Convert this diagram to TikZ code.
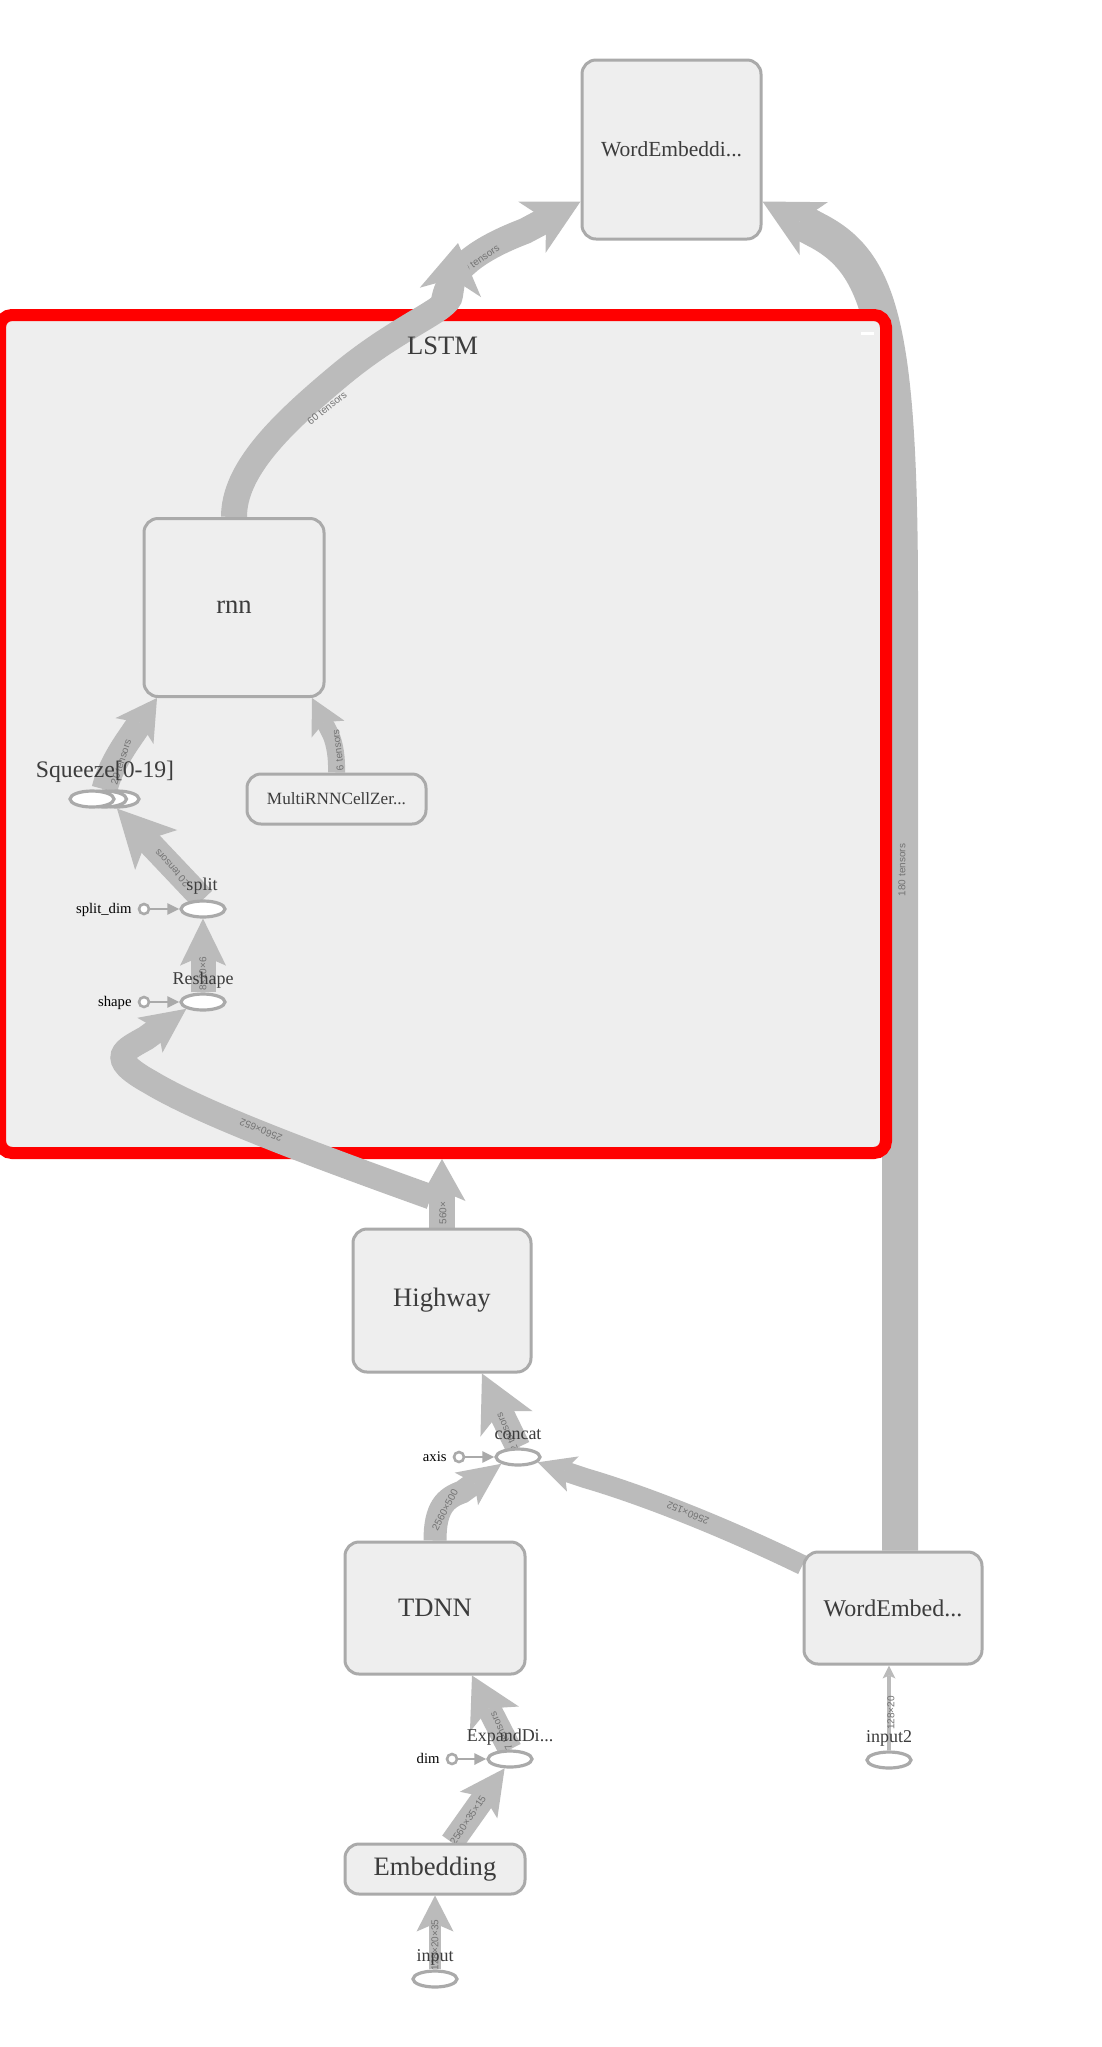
\documentclass[tikz,border=0pt]{standalone}
\usepackage{fontspec}
\setmainfont{Liberation Serif}
\setsansfont{Liberation Sans}
\usetikzlibrary{arrows.meta,shapes.geometric,calc}
\definecolor{edgec}{RGB}{187,187,187}
\definecolor{nodef}{RGB}{238,238,238}
\definecolor{nodeb}{RGB}{170,170,170}
\definecolor{txtc}{RGB}{60,60,60}
\definecolor{elabc}{RGB}{115,115,115}
\definecolor{lstmred}{RGB}{255,0,0}
\pgfdeclarelayer{rootedge}
\pgfdeclarelayer{clusterlayer}
\pgfdeclarelayer{inedge}
\pgfsetlayers{rootedge,clusterlayer,inedge,main}
\newcommand\fsz[1]{\fontsize{#1}{#1}\selectfont}
\tikzset{
  metabox/.style={draw=nodeb, fill=nodef, line width=1.5pt, rounded corners=7pt, text=txtc, inner sep=0pt, align=center},
  opnode/.style={ellipse, draw=nodeb, fill=white, line width=1.6pt, minimum width=22pt, minimum height=8pt, inner sep=0pt},
  oplab/.style={text=txtc, font=\fsz{9}, anchor=base, inner sep=0pt},
  cnode/.style={circle, draw=nodeb, fill=white, line width=1.3pt, minimum size=5pt, inner sep=0pt},
  clab/.style={text=black, font=\fsz{7.35}, anchor=base east, inner sep=0pt},
  carrow/.style={draw=nodeb, line width=1.3pt, -{Triangle[length=6pt,width=5.5pt]}},
  flow/.style={draw=edgec},
  edgelab/.style={text=elabc, font=\sffamily\fsz{5}, inner sep=0pt},
}
\begin{document}
\begin{tikzpicture}[x=0.5pt,y=-0.5pt]
\begin{pgfonlayer}{rootedge}
\fill[white] (0,0) rectangle (1102,2047);
\end{pgfonlayer}
\useasboundingbox (0,0) rectangle (1102,2047);

% ---------- boxes ----------
\node[metabox, minimum width=89.5pt, minimum height=89.5pt, font=\fsz{10.75}] (we1) at (671.5,149.5) {WordEmbeddi...};
\node[metabox, minimum width=90pt, minimum height=89pt, font=\fsz{13.3}] (rnn) at (234,607.5) {rnn};
\node[metabox, minimum width=89.5pt, minimum height=25pt, font=\fsz{8.6}] (multi) at (336.5,799) {MultiRNNCellZer...};
\node[metabox, minimum width=89pt, minimum height=71.5pt, font=\fsz{13.3}] (highway) at (442,1300.5) {Highway};
\node[metabox, minimum width=90pt, minimum height=66pt, font=\fsz{13.3}] (tdnn) at (435,1608) {TDNN};
\node[metabox, minimum width=89pt, minimum height=56pt, font=\fsz{12}] (we2) at (893,1608) {WordEmbed...};
\node[metabox, minimum width=90pt, minimum height=25pt, font=\fsz{13.3}] (embed) at (435,1869) {Embedding};

% ---------- cluster ----------
\begin{pgfonlayer}{clusterlayer}
\node[draw=lstmred, fill=nodef, line width=6pt, rounded corners=6pt, minimum width=443pt, minimum height=419pt, inner sep=0pt] (lstm) at (443,734) {};
\draw[white, line width=1.5pt] (861,333) -- (874,333);
\end{pgfonlayer}
\node[oplab, font=\fsz{13.3}] (lstml) at (442.5,354) {LSTM};

% ---------- op nodes ----------
\node[opnode] (sq3) at (117,799) {};
\node[opnode] (sq2) at (104.5,799) {};
\node[opnode] (sq) at (92,799) {};
\node[opnode] (split) at (203,909) {};
\node[opnode] (reshape) at (203,1002) {};
\node[opnode] (concat) at (518,1457) {};
\node[opnode] (expand) at (510,1759) {};
\node[opnode] (input2) at (889,1760) {};
\node[opnode] (input) at (435,1979) {};

\node[oplab, font=\fsz{11.85}] (sql) at (105,777) {Squeeze[0-19]};
\node[oplab] (splitl) at (202,890.5) {split};
\node[oplab] (reshapel) at (203,984) {Reshape};
\node[oplab] (concatl) at (518,1439) {concat};
\node[oplab] (expandl) at (510,1741.5) {ExpandDi...};
\node[oplab] (input2l) at (889,1742) {input2};
\node[oplab] (inputl) at (435,1961.5) {input};

% ---------- constants ----------
\node[cnode] (sdc) at (144,909) {};
\node[clab] (sdl) at (132,913.5) {split\_dim};
\node[cnode] (shc) at (144,1002) {};
\node[clab] (shl) at (132,1006.5) {shape};
\node[cnode] (axc) at (459,1457) {};
\node[clab] (axl) at (447,1461.5) {axis};
\node[cnode] (dmc) at (452,1759) {};
\node[clab] (dml) at (440,1763.5) {dim};

\coordinate (lstmout) at (458,243);

% ---------- edges inside the cluster ----------
\begin{pgfonlayer}{inedge}
\draw[carrow] (sdc) -- (split);
\draw[carrow] (shc) -- (reshape);
\draw[carrow] (axc) -- (concat);
\draw[carrow] (dmc) -- (expand);

\draw[flow, line width=13pt, -{Stealth[length=25pt,width=31pt,inset=7pt,line width=0pt]}]
  (rnn.north) .. controls (234,470) and (280,425) .. (340,375)
  .. controls (400,325) and (449,310) .. (450,295) -- (lstmout);
\node[edgelab, rotate=38] at (327,408) {60 tensors};

\draw[flow, line width=13pt, -{Stealth[length=20pt,width=23pt,inset=5pt,line width=0pt]}]
  (sq2.north) .. controls (108,775) and (115,760) .. (127,742) -- ([xshift=7.25pt]rnn.south west);
\node[edgelab, rotate=72] at (121,762) {20 tensors};

\draw[flow, line width=8.5pt, -{Stealth[length=17.5pt,width=18.5pt,inset=4pt,line width=0pt]}]
  (multi.north) .. controls (337,758) and (335,745) .. (331,735) -- ([xshift=-6.75pt]rnn.south east);
\node[edgelab, rotate=97] at (338,750) {6 tensors};

\draw[flow, line width=12.5pt, -{Stealth[length=28.5pt,width=29pt,inset=7pt,line width=0pt]}]
  (split.north) -- (sq3.south);
\node[edgelab, rotate=132] at (172,868) {20 tensors};

\draw[flow, line width=12.5pt, -{Stealth[length=23.5pt,width=23pt,inset=5pt,line width=0pt]}]
  (reshape.north) -- (split.south);
\node[edgelab, rotate=90] at (203,974) {8×20×6};

\draw[flow, line width=12.5pt, -{Stealth[length=22.5pt,width=21.5pt,inset=5pt,line width=0pt]}]
  ([xshift=-6pt,yshift=-19pt]lstm.south) .. controls (300,1150) and (200,1112) .. (150,1082)
  .. controls (105,1057) and (125,1050) .. (146,1038) -- (reshape.south west);
\node[edgelab, rotate=158] at (261,1130) {2560×652};
\end{pgfonlayer}

% ---------- edges outside the cluster ----------
\begin{pgfonlayer}{rootedge}
\draw[flow, line width=18pt, -{Stealth[length=29pt,width=30pt,inset=8pt,line width=0pt]}]
  ([xshift=3.5pt]we2.north) -- (900,600) .. controls (900,330) and (880,265) .. (820,232)
  -- ([yshift=19.5pt]we1.south east);
\node[edgelab, rotate=90] at (902,870) {180 tensors};

\draw[flow, line width=13pt, -{Stealth[length=27.5pt,width=29pt,inset=8pt,line width=0pt]}]
  (lstm.north) .. controls (445,275) and (470,252) .. (525,231) -- ([yshift=19.5pt]we1.south west);
\node[edgelab, rotate=34] at (479,260) {60 tensors};

\draw[flow, line width=13pt, -{Stealth[length=21pt,width=23.5pt,inset=5pt,line width=0pt]}]
  (highway.north) -- (highway.north |- lstm.south);
\node[edgelab, rotate=90] at (443,1213) {560×};

\draw[flow, line width=12.5pt, -{Stealth[length=28pt,width=29pt,inset=7pt,line width=0pt]}]
  (concat.north) -- ([xshift=20pt]highway.south);
\node[edgelab, rotate=114] at (507,1432) {2 tensors};

\draw[flow, line width=11.5pt, -{Stealth[length=21.5pt,width=20pt,inset=5pt,line width=0pt]}]
  (tdnn.north) .. controls (435,1508) and (445,1498) .. (462,1492) -- (concat.south west);
\node[edgelab, rotate=62] at (445,1510) {2560×500};

\draw[flow, line width=10pt, -{Stealth[length=18.5pt,width=18.5pt,inset=4.5pt,line width=0pt]}]
  ([yshift=-7.25pt]we2.north west) .. controls (720,1525) and (640,1494) .. (585,1478) -- (concat.-15);
\node[edgelab, rotate=157] at (688,1513) {2560×152};

\draw[flow, line width=12pt, -{Stealth[length=24.5pt,width=27.5pt,inset=6pt,line width=0pt]}]
  (expand.north) -- ([xshift=18.5pt]tdnn.south);
\node[edgelab, rotate=115] at (501,1731) {7 tensors};

\draw[flow, line width=12pt, -{Stealth[length=22.5pt,width=23pt,inset=5pt,line width=0pt]}]
  ([xshift=8.5pt]embed.north) -- (expand.240);
\node[edgelab, rotate=56] at (468,1820) {2560×35×15};

\draw[flow, line width=6pt, -{Stealth[length=18pt,width=18.5pt,inset=4pt,line width=0pt]}]
  (input.north) -- (embed.south);
\node[edgelab, rotate=90] at (435,1945) {128×20×35};

\draw[flow, line width=2pt, -{Stealth[length=6.5pt,width=6.5pt,inset=1.5pt,line width=0pt]}]
  (input2.north) -- (input2.north |- we2.south);
\node[edgelab, rotate=90] at (891,1713) {128×20};
\end{pgfonlayer}
\end{tikzpicture}
\end{document}
